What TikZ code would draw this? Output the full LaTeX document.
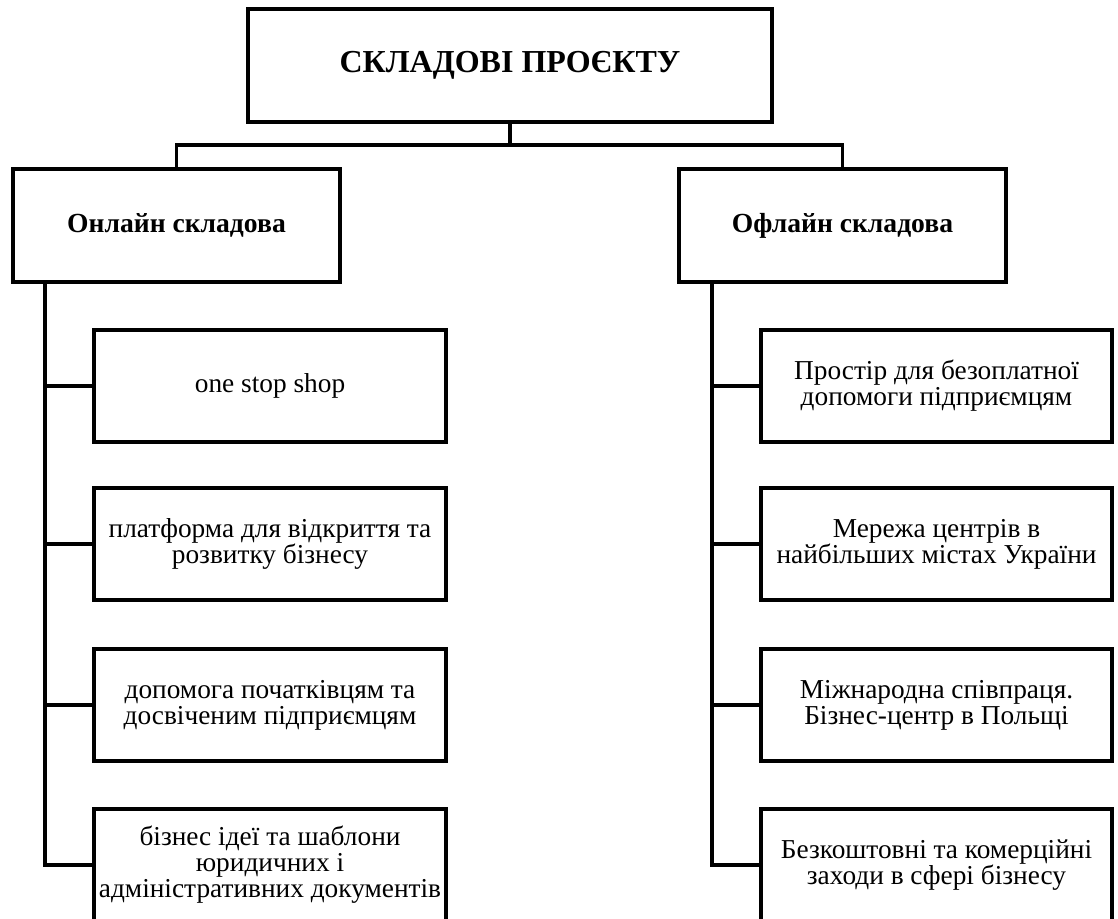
\documentclass[tikz,border=0pt]{standalone}
\usepackage{fontspec}
\setmainfont{Liberation Serif}
\begin{document}
\begin{tikzpicture}[x=0.75pt,y=-0.75pt,
  box/.style={draw=black, line width=2.5pt, fill=white, inner sep=0pt, align=center},
  topbox/.style={box, minimum width=393pt, minimum height=84.75pt, font=\fontsize{24}{28}\selectfont\bfseries},
  midbox/.style={box, minimum width=245.25pt, minimum height=84.75pt, font=\fontsize{20.7}{24}\selectfont\bfseries},
  leafL/.style={box, minimum width=264pt, minimum height=84pt, font=\fontsize{20.5}{19.5}\selectfont},
  leafR/.style={box, minimum width=263.25pt, minimum height=84pt, font=\fontsize{20.5}{19.5}\selectfont},
  link/.style={line width=2.5pt}
]
\useasboundingbox (0,0) rectangle (1118,919);

\node[topbox] (top) at (510,65.5) {СКЛАДОВІ ПРОЄКТУ};
\node[midbox] (lm) at (176.5,225.5) {Онлайн складова};
\node[midbox] (rm) at (842.5,225.5) {Офлайн складова};

\node[leafL] (l1) at (270,386) {one stop shop};
\node[leafL] (l2) at (270,544) {платформа для відкриття та\\розвитку бізнесу};
\node[leafL] (l3) at (270,705) {допомога початківцям та\\досвіченим підприємцям};
\node[leafL] (l4) at (270,865) {бізнес ідеї та шаблони\\юридичних і\\адміністративних документів};

\node[leafR] (r1) at (936.5,386) {Простір для безоплатної\\допомоги підприємцям};
\node[leafR] (r2) at (936.5,544) {Мережа центрів в\\найбільших містах України};
\node[leafR] (r3) at (936.5,705) {Міжнародна співпраця.\\Бізнес-центр в Польщі};
\node[leafR] (r4) at (936.5,865) {Безкоштовні та комерційні\\заходи в сфері бізнесу};

\coordinate (bus) at (510,145);
\coordinate (lt) at (45,282);
\coordinate (rt) at (712,282);

\draw[link] (top.south) -- (top.south |- bus) -| (lm.north);
\draw[link] (top.south |- bus) -| (rm.north);

\draw[link] (lm.south -| lt) |- (l4.west);
\draw[link] (lt |- l1.west) -- (l1.west);
\draw[link] (lt |- l2.west) -- (l2.west);
\draw[link] (lt |- l3.west) -- (l3.west);

\draw[link] (rm.south -| rt) |- (r4.west);
\draw[link] (rt |- r1.west) -- (r1.west);
\draw[link] (rt |- r2.west) -- (r2.west);
\draw[link] (rt |- r3.west) -- (r3.west);
\end{tikzpicture}
\end{document}
